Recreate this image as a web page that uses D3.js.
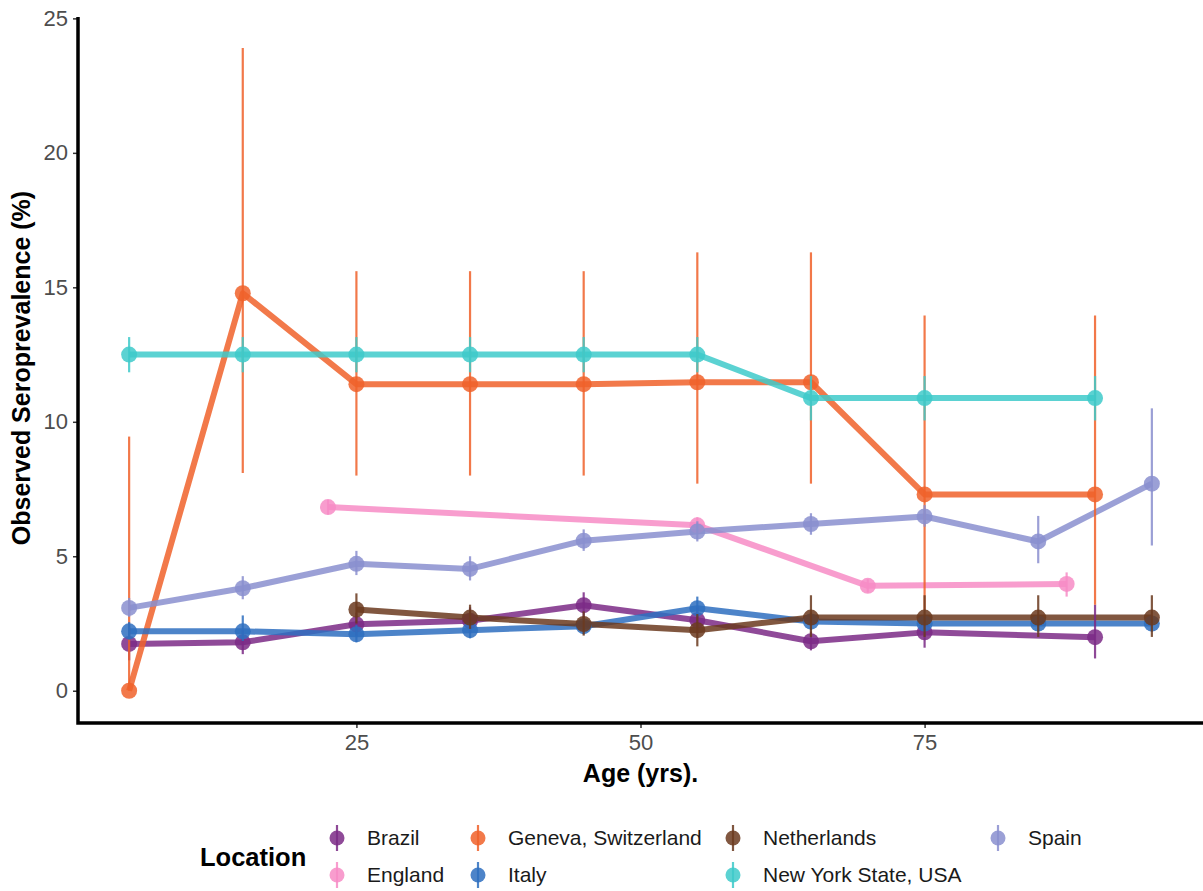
<!DOCTYPE html>
<html>
<head>
<meta charset="utf-8">
<script src="https://cdn.jsdelivr.net/npm/d3@7"></script>
<style>
  html, body { margin: 0; padding: 0; background: #fff; }
  svg { display: block; font-family: "Liberation Sans", Arial, Helvetica, sans-serif; }
</style>
</head>
<body>
<svg id="chart" width="1203" height="891"></svg>
<script>
// Seroprevalence by age group for each study location
const locations = ["Brazil", "England", "Geneva, Switzerland", "Italy", "Netherlands", "New York State, USA", "Spain"];
const colors = ["#7b2a86", "#f78cc6", "#f0612a", "#2e6fbf", "#6b3a1f", "#3ecaca", "#8a8fcf"];

const brazilAge   = [5, 15, 25, 35, 45, 55, 65, 75, 90];
const brazilValue = [1.74, 1.8, 2.47, 2.6, 3.18, 2.62, 1.84, 2.17, 1.99];
const brazilLow   = [1.13, 1.36, 2.05, 2.15, 2.7, 2.15, 1.5, 1.6, 1.2];
const brazilHigh  = [2.35, 2.25, 2.9, 3.1, 3.66, 3.1, 2.2, 2.7, 3.2];

const englandAge   = [22.5, 55, 70, 87.5];
const englandValue = [6.83, 6.15, 3.9, 3.97];
const englandLow   = [6.55, 5.85, 3.65, 3.5];
const englandHigh  = [7.1, 6.45, 4.15, 4.4];

const genevaAge   = [5, 15, 25, 35, 45, 55, 65, 75, 90];
const genevaValue = [0, 14.78, 11.4, 11.4, 11.4, 11.47, 11.47, 7.3, 7.3];
const genevaLow   = [0, 8.1, 8.0, 8.0, 8.0, 7.7, 7.7, 3.0, 3.2];
const genevaHigh  = [9.45, 23.9, 15.6, 15.6, 15.6, 16.3, 16.3, 13.95, 13.95];

const italyAge   = [5, 15, 25, 35, 45, 55, 65, 75, 85, 95];
const italyValue = [2.21, 2.21, 2.1, 2.25, 2.4, 3.07, 2.57, 2.5, 2.5, 2.5];
const italyLow   = [1.9, 1.85, 1.8, 1.95, 2.1, 2.75, 2.25, 2.2, 2.2, 2.2];
const italyHigh  = [2.55, 2.8, 2.45, 2.6, 2.75, 3.5, 2.9, 2.8, 2.8, 2.8];

const nlAge   = [25, 35, 45, 55, 65, 75, 85, 95];
const nlValue = [3.02, 2.72, 2.48, 2.25, 2.72, 2.72, 2.72, 2.72];
const nlLow   = [2.5, 2.3, 2.05, 1.65, 2.0, 2.0, 2.0, 2.0];
const nlHigh  = [3.62, 3.2, 2.95, 2.85, 3.55, 3.55, 3.55, 3.55];

const nyAge   = [5, 15, 25, 35, 45, 55, 65, 75, 90];
const nyValue = [12.5, 12.5, 12.5, 12.5, 12.5, 12.5, 10.88, 10.88, 10.88];
const nyLow   = [11.84, 11.84, 11.84, 11.84, 11.84, 11.84, 10.05, 10.05, 10.05];
const nyHigh  = [13.15, 13.15, 13.15, 13.15, 13.15, 13.15, 11.7, 11.7, 11.7];

const spainAge   = [5, 15, 25, 35, 45, 55, 65, 75, 85, 95];
const spainValue = [3.08, 3.81, 4.72, 4.53, 5.58, 5.92, 6.2, 6.48, 5.55, 7.7];
const spainLow   = [2.75, 3.4, 4.3, 4.1, 5.2, 5.55, 5.8, 6.1, 4.74, 5.4];
const spainHigh  = [3.45, 4.26, 5.2, 5.0, 6.0, 6.3, 6.6, 6.9, 6.5, 10.5];

const xTicks = [25, 50, 75];
const yTicks = [0, 5, 10, 15, 20, 25];

const seriesRaw = [
  [brazilAge, brazilValue, brazilLow, brazilHigh],
  [englandAge, englandValue, englandLow, englandHigh],
  [genevaAge, genevaValue, genevaLow, genevaHigh],
  [italyAge, italyValue, italyLow, italyHigh],
  [nlAge, nlValue, nlLow, nlHigh],
  [nyAge, nyValue, nyLow, nyHigh],
  [spainAge, spainValue, spainLow, spainHigh]
];
const series = seriesRaw.map((s, i) => ({
  name: locations[i],
  color: colors[i],
  points: s[0].map((a, j) => ({ age: a, value: s[1][j], low: s[2][j], high: s[3][j] }))
}));

const svg = d3.select("#chart");
const panel = { left: 78, right: 1203, top: 13, bottom: 723 };

const x = d3.scaleLinear().domain([0.5, 99.5]).range([panel.left, panel.right]);
const y = d3.scaleLinear().domain([-1.2, 25.2]).range([panel.bottom, panel.top]);

// Axes
const yAxis = svg.append("g")
  .attr("transform", `translate(${panel.left},0)`)
  .call(d3.axisLeft(y).tickValues(yTicks).tickSize(5).tickPadding(5));
const xAxis = svg.append("g")
  .attr("transform", `translate(0,${panel.bottom})`)
  .call(d3.axisBottom(x).tickValues(xTicks).tickSize(5).tickPadding(6));

[yAxis, xAxis].forEach(g => {
  g.select(".domain").remove();
  g.selectAll(".tick line").attr("stroke", "#333").attr("stroke-width", 1.5);
  g.selectAll(".tick text").attr("fill", "#4d4d4d").style("font-size", "22px")
    .style("font-family", "'Liberation Sans', Arial, sans-serif");
});

// Axis lines (L-shaped frame)
svg.append("path")
  .attr("d", `M${panel.left},${panel.top + 4}V${panel.bottom}H${panel.right}`)
  .attr("fill", "none").attr("stroke", "#000").attr("stroke-width", 3.5);

// Axis titles
svg.append("text")
  .attr("x", (panel.left + panel.right) / 2).attr("y", 782)
  .attr("text-anchor", "middle").attr("font-weight", "bold").attr("font-size", 25)
  .attr("fill", "#000").text("Age (yrs).");
svg.append("text")
  .attr("transform", `translate(30,${(panel.top + panel.bottom) / 2}) rotate(-90)`)
  .attr("text-anchor", "middle").attr("font-weight", "bold").attr("font-size", 25)
  .attr("fill", "#000").text("Observed Seroprevalence (%)");

const plot = svg.append("g");
const line = d3.line().x(d => x(d.age)).y(d => y(d.value));

// Connecting lines
plot.selectAll("path.series")
  .data(series).join("path")
  .attr("class", "series")
  .attr("d", d => line(d.points))
  .attr("fill", "none")
  .attr("stroke", d => d.color)
  .attr("stroke-width", 6)
  .attr("stroke-linejoin", "round")
  .attr("opacity", 0.85);

// Point ranges: error bar plus point
const groups = plot.selectAll("g.range").data(series).join("g").attr("class", "range");
groups.selectAll("line")
  .data(d => d.points.map(p => ({ ...p, color: d.color })))
  .join("line")
  .attr("x1", d => x(d.age)).attr("x2", d => x(d.age))
  .attr("y1", d => y(d.low)).attr("y2", d => y(d.high))
  .attr("stroke", d => d.color).attr("stroke-width", 2.2).attr("opacity", 0.85);
groups.selectAll("circle")
  .data(d => d.points.map(p => ({ ...p, color: d.color })))
  .join("circle")
  .attr("cx", d => x(d.age)).attr("cy", d => y(d.value))
  .attr("r", 8)
  .attr("fill", d => d.color).attr("opacity", 0.85);

// Legend
const legend = svg.append("g");
legend.append("text")
  .attr("x", 200).attr("y", 866)
  .attr("font-weight", "bold").attr("font-size", 25.5).attr("fill", "#000")
  .text("Location");

const colX = [337, 478, 733, 998];
const rowY = [838, 875];
series.forEach((s, i) => {
  const cx = colX[Math.floor(i / 2)];
  const cy = rowY[i % 2];
  const item = legend.append("g");
  item.append("line")
    .attr("x1", cx).attr("x2", cx).attr("y1", cy - 13).attr("y2", cy + 13)
    .attr("stroke", s.color).attr("stroke-width", 2.2).attr("opacity", 0.85);
  item.append("circle")
    .attr("cx", cx).attr("cy", cy).attr("r", 7.5)
    .attr("fill", s.color).attr("opacity", 0.85);
  item.append("text")
    .attr("x", cx + 30).attr("y", cy + 7)
    .attr("font-size", 21).attr("fill", "#1a1a1a")
    .text(s.name);
});
</script>
</body>
</html>
